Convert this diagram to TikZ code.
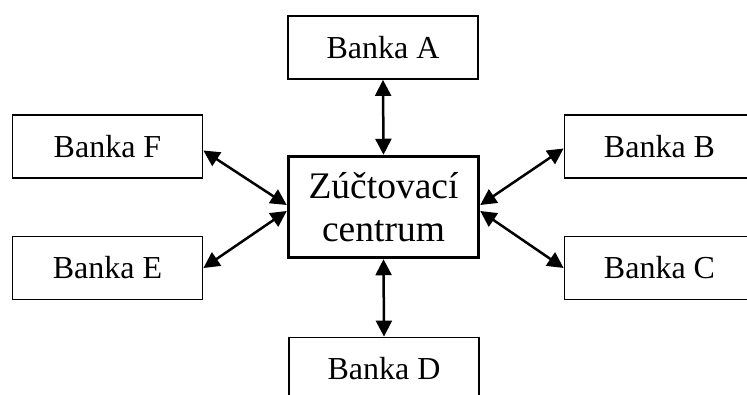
\documentclass[tikz,border=0pt]{standalone}
\usepackage{fontspec}
\setmainfont{Liberation Serif}
\usetikzlibrary{arrows.meta}
\begin{document}
\begin{tikzpicture}[x=1pt,y=1pt,
  bank/.style={draw, line width=1.8pt, minimum width=190pt, minimum height=63pt,
    inner sep=0pt, font=\fontsize{32}{38}\selectfont},
  hub/.style={draw, line width=3.5pt, minimum width=190pt, minimum height=101pt,
    inner sep=0pt, align=center, font=\fontsize{37.5}{43}\selectfont},
  link/.style={line width=2.5pt,
    {Triangle[length=16pt,width=16pt]}-{Triangle[length=16pt,width=16pt]}}]
\useasboundingbox (0,0) rectangle (747,394);
\clip (0,0) rectangle (747,394);

% clearing centre and the six banks around it
\node[hub] (hub) at (383.5,187) {Zúčtovací\\centrum};
\node[bank] (A) at (383,346.5) {Banka A};
\node[bank] (B) at (659.5,247.5) {Banka B};
\node[bank] (C) at (659.5,126) {Banka C};
\node[bank] (D) at (384,25) {Banka D};
\node[bank] (E) at (107.5,126) {Banka E};
\node[bank] (F) at (107.5,247.5) {Banka F};

% two-way links
\draw[link] (A.south) -- (hub.north);
\draw[link] (hub.south) -- (D.north);
\draw[link] ([yshift=-4pt]F.east) -- ([yshift=2pt]hub.west);
\draw[link] (E.east) -- ([yshift=-4pt]hub.west);
\draw[link] ([yshift=-2pt]B.west) -- ([yshift=2pt]hub.east);
\draw[link] (C.west) -- ([yshift=-4pt]hub.east);
\end{tikzpicture}
\end{document}
